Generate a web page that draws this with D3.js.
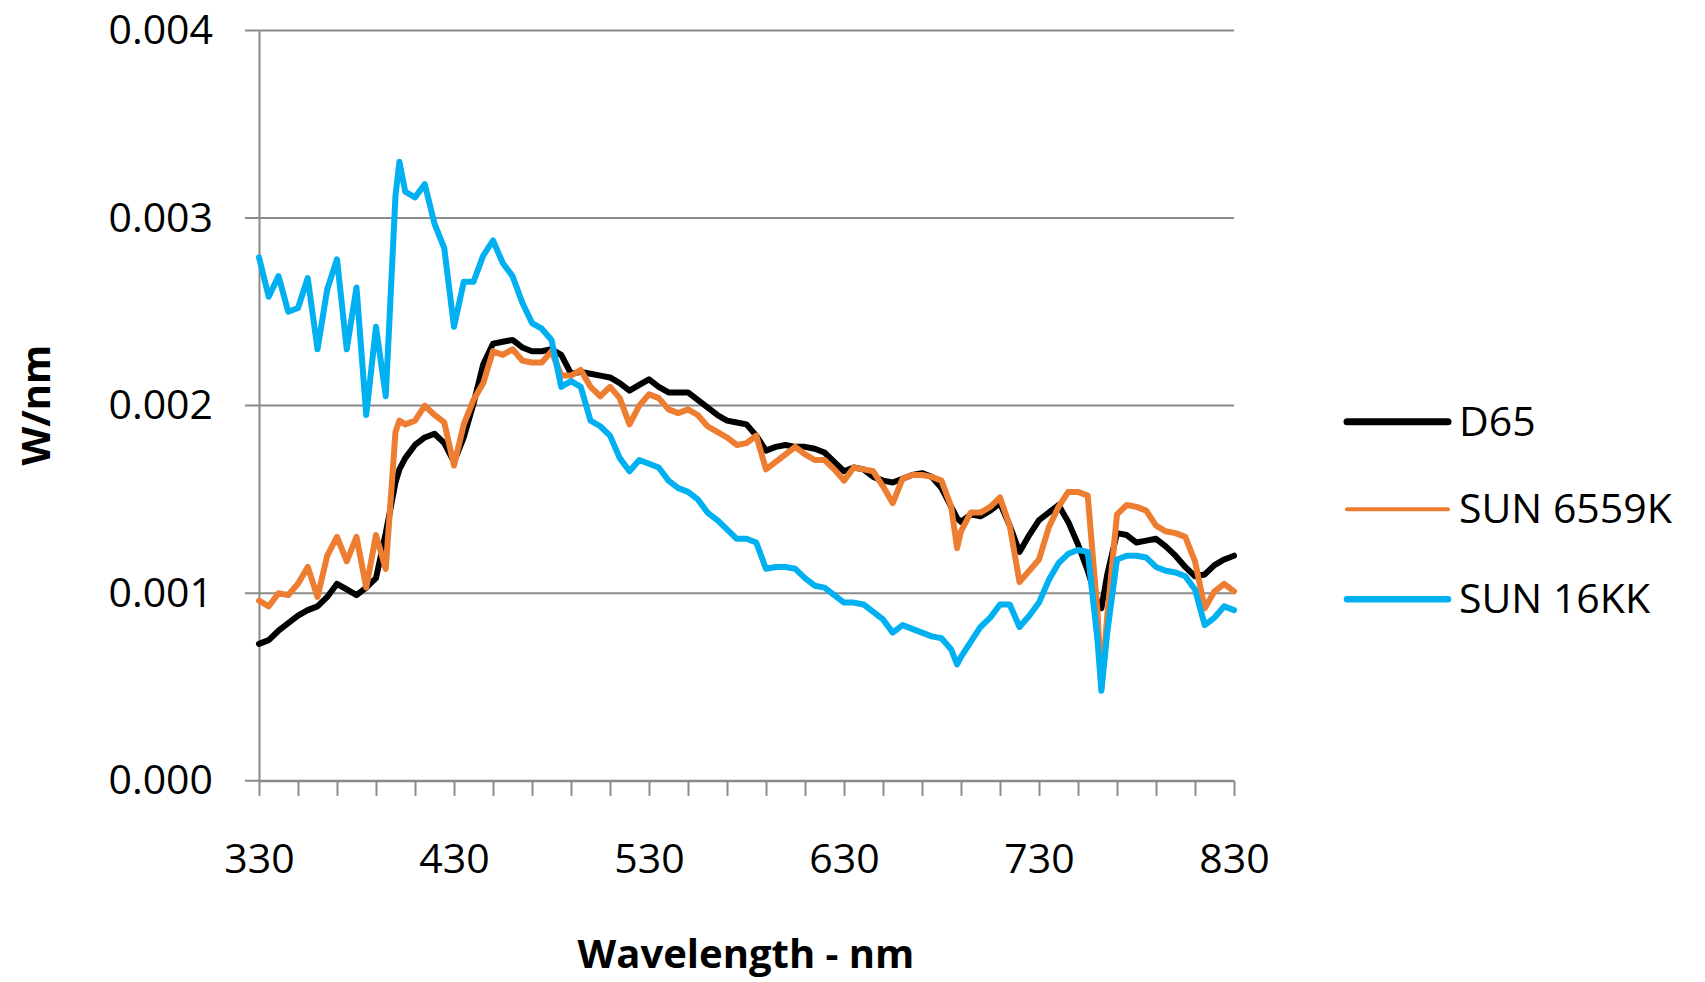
<!DOCTYPE html>
<html>
<head>
<meta charset="utf-8">
<title>Spectral power</title>
<script src="https://cdn.jsdelivr.net/npm/d3@7"></script>
<style>
    body { margin: 0; background: #fff; }
    #chart-area { width: 1705px; height: 982px; }
    text { font-family: "Open Sans", sans-serif; fill: #000; }
</style>
</head>
<body>
<div id="chart-area"></div>
<script>
// wavelength samples (nm), 5 nm steps plus a few narrow features
const wavelengths = [330, 335, 340, 345, 350, 355, 360, 365, 370, 375, 380, 385, 390, 395, 400, 402, 405, 410, 415, 420, 425,
    430, 435, 440, 445, 450, 455, 460, 465, 470, 475, 480, 485, 490, 495, 500, 505, 510, 515, 520, 525,
    530, 535, 540, 545, 550, 555, 560, 565, 570, 575, 580, 585, 590, 595, 600, 605, 610, 615, 620, 625,
    630, 635, 640, 645, 650, 655, 660, 665, 670, 675, 680, 685, 688, 690, 695, 700, 705, 710, 715, 720,
    725, 730, 735, 740, 745, 750, 755, 760, 762, 765, 770, 775, 780, 785, 790, 795, 800, 805, 810, 815,
    820, 825, 830];

const d65 = [0.00073, 0.00075, 0.00080, 0.00084, 0.00088, 0.00091, 0.00093, 0.00098, 0.00105, 0.00102, 0.00099, 0.00103, 0.00108, 0.00132, 0.00159, 0.00166, 0.00172, 0.00179, 0.00183, 0.00185, 0.00180,
    0.00170, 0.00183, 0.00201, 0.00222, 0.00233, 0.00234, 0.00235, 0.00231, 0.00229, 0.00229, 0.00230, 0.00227, 0.00217, 0.00218, 0.00217, 0.00216, 0.00215, 0.00212, 0.00208, 0.00211,
    0.00214, 0.00210, 0.00207, 0.00207, 0.00207, 0.00203, 0.00199, 0.00195, 0.00192, 0.00191, 0.00190, 0.00184, 0.00176, 0.00178, 0.00179, 0.00178, 0.00178, 0.00177, 0.00175, 0.00170,
    0.00165, 0.00167, 0.00166, 0.00162, 0.00160, 0.00159, 0.00161, 0.00163, 0.00164, 0.00162, 0.00156, 0.00146, 0.00140, 0.00138, 0.00142, 0.00141, 0.00144, 0.00148, 0.00136, 0.00122,
    0.00131, 0.00139, 0.00143, 0.00147, 0.00138, 0.00126, 0.00112, 0.00095, 0.00092, 0.00110, 0.00132, 0.00131, 0.00127, 0.00128, 0.00129, 0.00125, 0.00120, 0.00114, 0.00109, 0.00110,
    0.00115, 0.00118, 0.00120];

const sun6559k = [0.00096, 0.00093, 0.00100, 0.00099, 0.00105, 0.00114, 0.00098, 0.00120, 0.00130, 0.00117, 0.00130, 0.00103, 0.00131, 0.00113, 0.00186, 0.00192, 0.00190, 0.00192, 0.00200, 0.00195, 0.00191,
    0.00168, 0.00190, 0.00203, 0.00212, 0.00229, 0.00227, 0.00230, 0.00224, 0.00223, 0.00223, 0.00229, 0.00216, 0.00216, 0.00219, 0.00210, 0.00205, 0.00210, 0.00204, 0.00190, 0.00200,
    0.00206, 0.00204, 0.00198, 0.00196, 0.00198, 0.00195, 0.00189, 0.00186, 0.00183, 0.00179, 0.00180, 0.00184, 0.00166, 0.00170, 0.00174, 0.00178, 0.00174, 0.00171, 0.00171, 0.00166,
    0.00160, 0.00167, 0.00166, 0.00165, 0.00157, 0.00148, 0.00161, 0.00163, 0.00163, 0.00162, 0.00160, 0.00146, 0.00124, 0.00133, 0.00143, 0.00143, 0.00146, 0.00151, 0.00136, 0.00106,
    0.00112, 0.00118, 0.00135, 0.00146, 0.00154, 0.00154, 0.00152, 0.00090, 0.00049, 0.00088, 0.00142, 0.00147, 0.00146, 0.00144, 0.00136, 0.00133, 0.00132, 0.00130, 0.00117, 0.00092,
    0.00101, 0.00105, 0.00101];

const sun16kk = [0.00279, 0.00258, 0.00269, 0.00250, 0.00252, 0.00268, 0.00230, 0.00262, 0.00278, 0.00230, 0.00263, 0.00195, 0.00242, 0.00205, 0.00312, 0.00330, 0.00314, 0.00311, 0.00318, 0.00297, 0.00284,
    0.00242, 0.00266, 0.00266, 0.00280, 0.00288, 0.00276, 0.00269, 0.00255, 0.00244, 0.00241, 0.00235, 0.00210, 0.00213, 0.00210, 0.00192, 0.00189, 0.00184, 0.00172, 0.00165, 0.00171,
    0.00169, 0.00167, 0.00160, 0.00156, 0.00154, 0.00150, 0.00143, 0.00139, 0.00134, 0.00129, 0.00129, 0.00127, 0.00113, 0.00114, 0.00114, 0.00113, 0.00108, 0.00104, 0.00103, 0.00099,
    0.00095, 0.00095, 0.00094, 0.00090, 0.00086, 0.00079, 0.00083, 0.00081, 0.00079, 0.00077, 0.00076, 0.00070, 0.00062, 0.00066, 0.00074, 0.00082, 0.00087, 0.00094, 0.00094, 0.00082,
    0.00088, 0.00095, 0.00107, 0.00116, 0.00121, 0.00123, 0.00122, 0.00075, 0.00048, 0.00079, 0.00118, 0.00120, 0.00120, 0.00119, 0.00114, 0.00112, 0.00111, 0.00109, 0.00102, 0.00083,
    0.00087, 0.00093, 0.00091];

const seriesNames = ["D65", "SUN 6559K", "SUN 16KK"];
const seriesColors = ["#000000", "#ED7D31", "#00B0F0"];
const yTicks = [0, 0.001, 0.002, 0.003, 0.004];
const xLabels = [330, 430, 530, 630, 730, 830];

class SpectrumChart {
    constructor(parentElement) {
        this.parentElement = parentElement;
        this.series = [d65, sun6559k, sun16kk];
        this.initVis();
    }

    initVis() {
        let vis = this;

        vis.margin = {top: 30.4, right: 471, bottom: 201.2, left: 259};
        vis.width = 1705 - vis.margin.left - vis.margin.right;
        vis.height = 982 - vis.margin.top - vis.margin.bottom;

        vis.svg = d3.select("#" + vis.parentElement).append("svg")
            .attr("width", 1705)
            .attr("height", 982)
            .append("g")
            .attr("transform", "translate(" + vis.margin.left + "," + vis.margin.top + ")");

        vis.x = d3.scaleLinear().domain([330, 830]).range([0, vis.width]);
        vis.y = d3.scaleLinear().domain([0, 0.004]).range([vis.height, 0]);

        // horizontal gridlines (they poke out left of the axis like ticks)
        vis.svg.selectAll(".grid")
            .data(yTicks)
            .enter()
            .append("line")
            .attr("class", "grid")
            .attr("x1", -14)
            .attr("x2", vis.width)
            .attr("y1", d => vis.y(d))
            .attr("y2", d => vis.y(d))
            .attr("stroke", "#8a8a8a")
            .attr("stroke-width", 2);

        // y axis
        let yAxis = vis.svg.append("g")
            .call(d3.axisLeft(vis.y).tickValues(yTicks).tickFormat(d3.format(".3f"))
                .tickSize(14).tickSizeOuter(0).tickPadding(32));
        yAxis.select(".domain").attr("stroke", "#8a8a8a").attr("stroke-width", 2);
        yAxis.selectAll(".tick line").remove();
        yAxis.selectAll("text").attr("font-size", "41px").attr("font-family", "Open Sans");

        // x axis
        let xAxis = vis.svg.append("g")
            .attr("transform", "translate(0," + vis.height + ")")
            .call(d3.axisBottom(vis.x).tickValues(d3.range(330, 831, 20))
                .tickFormat(d => xLabels.includes(d) ? d : "")
                .tickSize(15).tickSizeOuter(0));
        xAxis.select(".domain").attr("stroke", "#8a8a8a").attr("stroke-width", 2);
        xAxis.selectAll(".tick line").attr("stroke", "#8a8a8a").attr("stroke-width", 2);
        xAxis.selectAll("text")
            .attr("y", 92)
            .attr("dy", null)
            .attr("font-size", "41px")
            .attr("font-family", "Open Sans");

        vis.updateVis();
    }

    updateVis() {
        let vis = this;

        let line = d3.line()
            .x((d, i) => vis.x(wavelengths[i]))
            .y(d => vis.y(d));

        vis.svg.selectAll(".series")
            .data(vis.series)
            .enter()
            .append("path")
            .attr("class", "series")
            .attr("d", d => line(d))
            .attr("fill", "none")
            .attr("stroke", (d, i) => seriesColors[i])
            .attr("stroke-width", 6)
            .attr("stroke-linejoin", "round")
            .attr("stroke-linecap", "round");

        // axis titles
        vis.svg.append("text")
            .attr("x", 746 - vis.margin.left)
            .attr("y", 968 - vis.margin.top)
            .attr("text-anchor", "middle")
            .attr("font-size", "40px")
            .attr("font-weight", "bold")
            .text("Wavelength - nm");

        vis.svg.append("text")
            .attr("transform", "translate(" + (50 - vis.margin.left) + "," + (405 - vis.margin.top) + ")rotate(-90)")
            .attr("text-anchor", "middle")
            .attr("font-size", "40px")
            .attr("font-weight", "bold")
            .text("W/nm");

        // legend
        let legendY = [421.7, 509.3, 599.3];
        let legendWidth = [7, 4, 6.5];
        let legend = vis.svg.append("g")
            .attr("transform", "translate(" + (-vis.margin.left) + "," + (-vis.margin.top) + ")");

        seriesNames.forEach((name, i) => {
            legend.append("line")
                .attr("x1", 1347).attr("x2", 1448)
                .attr("y1", legendY[i]).attr("y2", legendY[i])
                .attr("stroke", seriesColors[i])
                .attr("stroke-width", legendWidth[i])
                .attr("stroke-linecap", "round");
            legend.append("text")
                .attr("x", 1459)
                .attr("y", legendY[i] + 14)
                .attr("font-size", "41px")
                .text(name);
        });
    }
}

new SpectrumChart("chart-area");
</script>
</body>
</html>
